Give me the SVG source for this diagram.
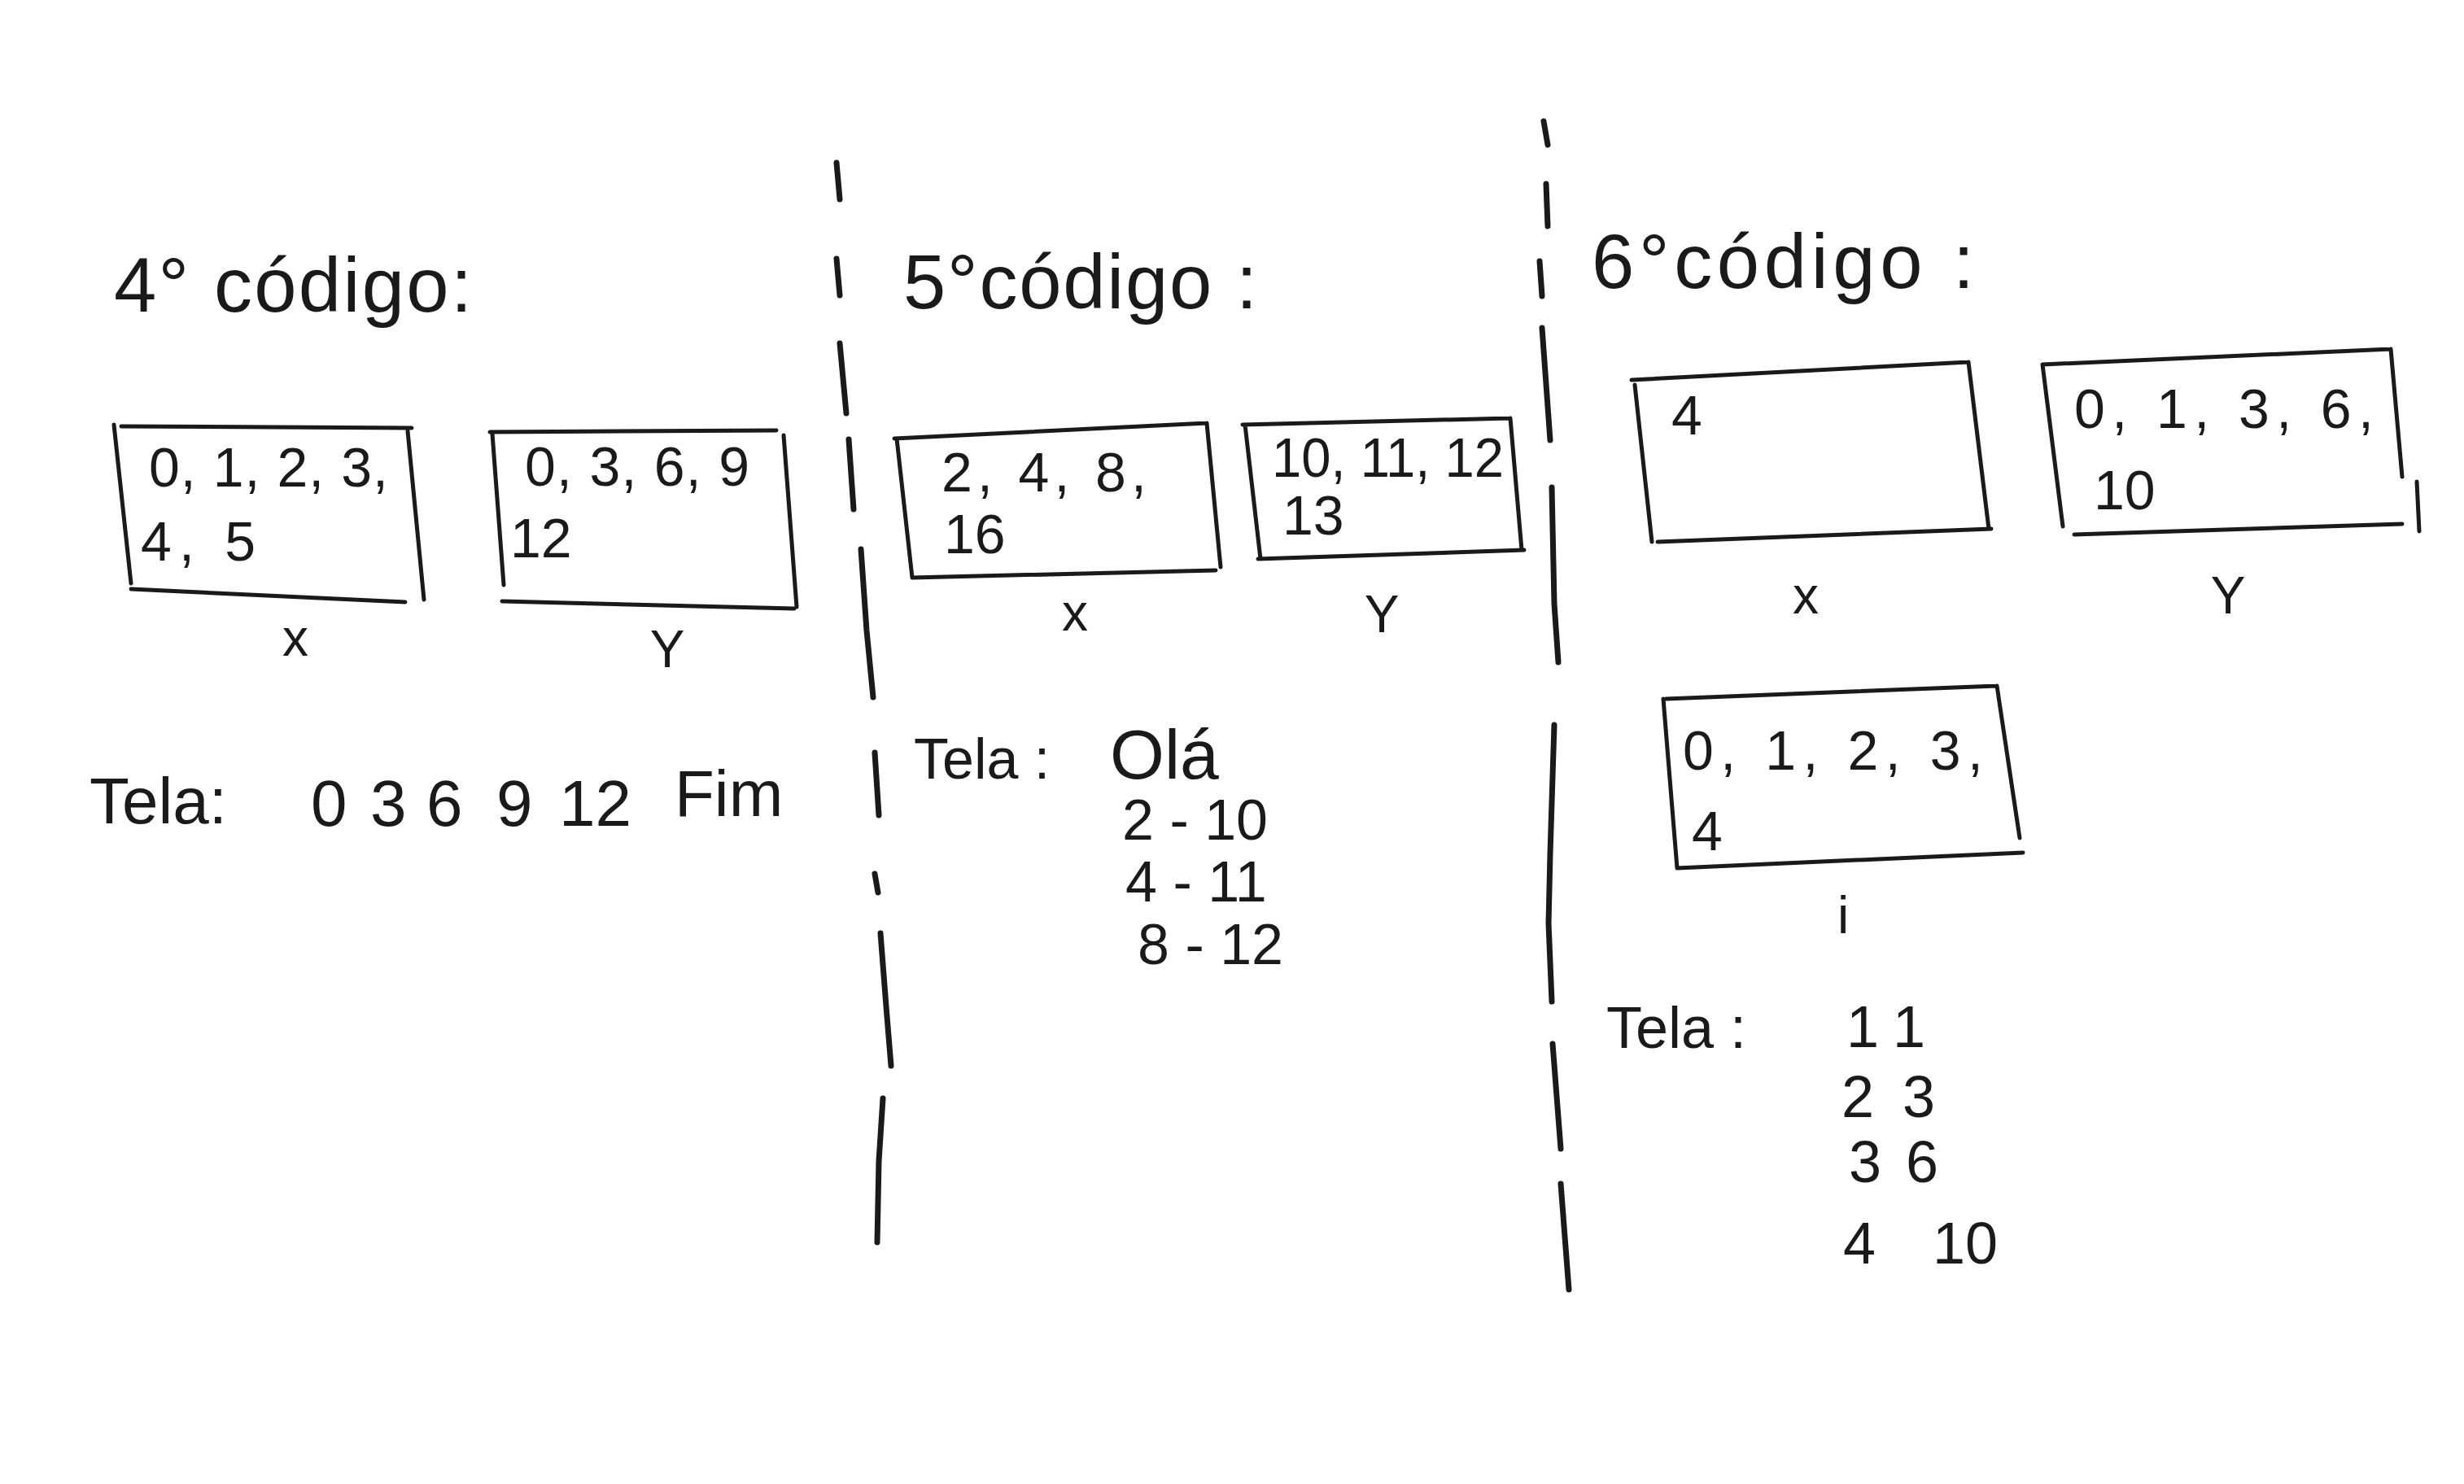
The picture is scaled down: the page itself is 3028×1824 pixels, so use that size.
<svg xmlns="http://www.w3.org/2000/svg" width="3028" height="1824" viewBox="0 0 3028 1824">
<style>
.t{font-family:"Liberation Sans",Arial,sans-serif;fill:#1a1a1a}
.ttl{font-size:94px}
.v{font-size:68px}
.lbl{font-size:64px;text-anchor:middle}
.box{fill:none;stroke:#1a1a1a;stroke-width:5;stroke-linecap:round;stroke-linejoin:round}
.div{fill:none;stroke:#1a1a1a;stroke-width:7;stroke-linecap:round;stroke-linejoin:round}
</style>
<rect width="3028" height="1824" fill="#ffffff"/>
<g id="dividers">
<path class="div" d="M1028,200 L1032,245 M1028,318 L1032,363 M1032,422 L1040,508 M1043,540 L1049,626 M1058,675 L1065,775 L1073,857 M1075,925 L1080,1002 M1075,1074 L1079,1097 M1082,1147 L1089,1237 L1095,1310 M1085,1350 L1080,1427 L1078,1527"/>
<path class="div" d="M1897,149 L1902,178 M1900,226 L1902,278 M1892,321 L1895,364 M1895,403 L1905,541 M1907,599 L1910,742 L1915,814 M1910,891 L1905,1049 L1903,1135 L1907,1231 M1908,1283 L1918,1412 M1918,1455 L1928,1585"/>
</g>
<g id="connectors"></g>

<g id="sec4">
<text id="title4" class="t ttl" x="140" y="383" textLength="440" lengthAdjust="spacing">4° código:</text>
<g id="box4x">
<path class="box" d="M149,524 L506,526 M140,522 L161,717 M161,724 L498,740 M501,530 L521,737"/>
<text class="t v" x="183" y="598" textLength="294" lengthAdjust="spacing">0, 1, 2, 3,</text>
<text class="t v" x="173" y="689" textLength="141" lengthAdjust="spacing">4, 5</text>
<text class="t lbl" x="363" y="806">x</text>
</g>
<g id="box4y">
<path class="box" d="M602,531 L954,529 M605,533 L619,719 M617,739 L976,748 M963,535 L979,746"/>
<text class="t v" x="645" y="597" textLength="276" lengthAdjust="spacing">0, 3, 6, 9</text>
<text class="t v" x="627" y="685">12</text>
<text class="t lbl" x="820" y="820">Y</text>
</g>
<g id="tela4">
<text class="t" font-size="80" x="110" y="1012">Tela: <tspan x="382" y="1015">0</tspan> <tspan x="455">3</tspan> <tspan x="524">6</tspan> <tspan x="610">9</tspan> <tspan x="687">12</tspan> <tspan x="829" y="1003">Fim</tspan></text>
</g>
</g>

<g id="sec5">
<text id="title5" class="t ttl" x="1110" y="379" textLength="435" lengthAdjust="spacing">5°código :</text>
<g id="box5x">
<path class="box" d="M1099,539 L1483,520 M1102,539 L1121,710 M1121,710 L1494,701 M1483,520 L1500,697"/>
<text class="t v" x="1157" y="604" textLength="252" lengthAdjust="spacing">2, 4, 8,</text>
<text class="t v" x="1160" y="680">16</text>
<text class="t lbl" x="1321" y="775">x</text>
</g>
<g id="box5y">
<path class="box" d="M1527,522 L1856,514 M1530,522 L1549,687 M1546,687 L1873,676 M1856,514 L1870,676"/>
<text class="t v" x="1563" y="586" textLength="285" lengthAdjust="spacingAndGlyphs">10, 11, 12</text>
<text class="t v" x="1576" y="657">13</text>
<text class="t lbl" x="1698" y="777">Y</text>
</g>
<g id="tela5">
<text class="t" font-size="70" x="1123" y="957">Tela : <tspan x="1364" font-size="86">Olá</tspan></text>
<text class="t" font-size="70" x="1379" y="1032">2 - 10</text>
<text class="t" font-size="70" x="1383" y="1108">4 - 11</text>
<text class="t" font-size="70" x="1398" y="1185">8 - 12</text>
</g>
</g>

<g id="sec6">
<text id="title6" class="t ttl" x="1956" y="354" textLength="470" lengthAdjust="spacing">6°código :</text>
<g id="box6x">
<path class="box" d="M2005,467 L2419,445 M2009,473 L2030,666 M2037,666 L2447,650 M2419,445 L2444,650"/>
<text class="t v" x="2054" y="534">4</text>
<text class="t lbl" x="2219" y="754">x</text>
</g>
<g id="box6y">
<path class="box" d="M2510,448 L2938,429 M2510,448 L2535,647 M2549,657 L2952,644 M2938,429 L2952,586 M2970,592 L2973,653"/>
<text class="t v" x="2549" y="526" textLength="368" lengthAdjust="spacing">0, 1, 3, 6,</text>
<text class="t v" x="2573" y="626">10</text>
<text class="t lbl" x="2738" y="754">Y</text>
</g>
<g id="box6i">
<path class="box" d="M2047,859 L2454,843 M2044,859 L2061,1067 M2061,1067 L2486,1048 M2454,843 L2482,1030"/>
<text class="t v" x="2068" y="946" textLength="369" lengthAdjust="spacing">0, 1, 2, 3,</text>
<text class="t v" x="2079" y="1045">4</text>
<text class="t lbl" font-size="76" x="2265" y="1147">i</text>
</g>
<g id="tela6">
<text class="t" font-size="72" x="1974" y="1288">Tela :</text>
<text class="t" font-size="72" x="2269" y="1287">1 <tspan x="2326">1</tspan></text>
<text class="t" font-size="72" x="2263" y="1373">2 <tspan x="2338">3</tspan></text>
<text class="t" font-size="72" x="2272" y="1453">3 <tspan x="2342">6</tspan></text>
<text class="t" font-size="72" x="2265" y="1553">4 <tspan x="2375">10</tspan></text>
</g>
</g>
</svg>
